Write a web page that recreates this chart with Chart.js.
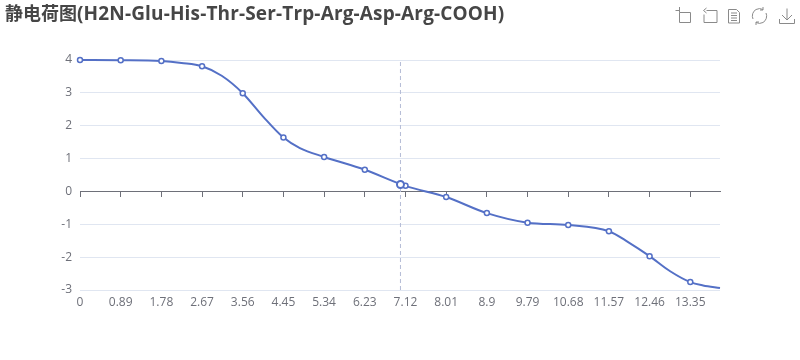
<!DOCTYPE html>
<html>
<head>
<meta charset="utf-8">
<title>静电荷图</title>
<script src="https://cdn.jsdelivr.net/npm/chart.js@4/dist/chart.umd.min.js"></script>
<style>
    html, body { margin: 0; background: #fff; }
    #wrap { position: relative; width: 800px; height: 360px; overflow: hidden; }
    #title { position: absolute; left: 5px; top: 0; font: bold 18px/24px "Noto Sans CJK SC", sans-serif; color: #464646; white-space: nowrap; }
    #title span { font-family: "Open Sans", sans-serif; font-size: 19px; letter-spacing: 0.15px; }
    #tools { position: absolute; left: 0; top: 0; }
    #tools path { fill: none; stroke: #8a8a8a; stroke-width: 1; }
</style>
</head>
<body>
<div id="wrap">
    <canvas id="chart" width="800" height="360"></canvas>
    <div id="title">静电荷图<span>(H2N-Glu-His-Thr-Ser-Trp-Arg-Asp-Arg-COOH)</span></div>
    <svg id="tools" width="800" height="30">
        <path d="M675.5 10.500h4M679.500 7v5.500h11v10h-11v-10"/>
        <path d="M706.500 10.500h10.500v12h-13v-8M706.500 8l-3 2.500 3 2.500"/>
        <path d="M728.500 9.500h8l3 3v10.500h-11zM731 13h6M731 15.500h6M731 18h6M731 20.500h6"/>
        <path d="M753 19a7.500 7.500 0 0 1 3-9.500 7.500 7.500 0 0 1 7 0M766 13a7.500 7.500 0 0 1-3 9.500 7.500 7.500 0 0 1-7 0M763 7v3h-3M756 25v-3h3"/>
        <path d="M787 8.500v11M782 15l5 5 5-5M779.500 19v4.500h15v-4.500"/>
    </svg>
</div>
<script>
// values at the marked ticks
const markerPh = [0, 0.89, 1.78, 2.67, 3.56, 4.45, 5.34, 6.23, 7.12, 8.01, 8.9, 9.79, 10.68, 11.57, 12.46, 13.35];
const markerCharge = [4.0, 3.995, 3.97, 3.81, 2.99, 1.64, 1.05, 0.66, 0.17, -0.17, -0.66, -0.95, -1.02, -1.21, -1.97, -2.76];
// the curve also passes through these, read between the markers
const curvePh = [0, 0.89, 1.78, 2.22, 2.67, 3.1, 3.56, 4.01, 4.45, 4.81, 5.34, 6.23, 7.12, 8.01, 8.9, 9.79, 10.68, 11.57, 11.99, 12.46, 12.91, 13.35, 13.63, 14];
const curveCharge = [4.0, 3.995, 3.97, 3.91, 3.81, 3.52, 2.99, 2.27, 1.64, 1.32, 1.05, 0.66, 0.17, -0.17, -0.66, -0.95, -1.02, -1.21, -1.54, -1.97, -2.43, -2.76, -2.86, -2.94];
const xTicks = [0, 0.89, 1.78, 2.67, 3.56, 4.45, 5.34, 6.23, 7.12, 8.01, 8.9, 9.79, 10.68, 11.57, 12.46, 13.35];
const yTicks = [-3, -2, -1, 0, 1, 2, 3, 4];
const pI = 7.01;
const pICharge = 0.21;

const BLUE = '#5470c6';
const AXIS = '#6e7079';

function useTicks(list) {
    return (scale) => {
        scale.ticks = list.map((value) => ({ value }));
    };
}

new Chart(document.getElementById('chart'), {
    type: 'scatter',
    data: {
        datasets: [
            {
                label: 'pI 点',
                order: 0,
                data: [{ x: pI, y: pICharge }],
                pointBackgroundColor: '#fff',
                pointBorderColor: BLUE,
                pointBorderWidth: 2,
                pointRadius: 3.5,
            },
            {
                label: 'pI',
                order: 1,
                data: [{ x: pI, y: -3 }, { x: pI, y: 4 }],
                showLine: true,
                borderColor: '#b4bcd6',
                borderWidth: 1,
                borderDash: [4, 3],
                pointRadius: 0,
            },
            {
                label: '标记',
                order: 2,
                data: markerPh.map((x, i) => ({ x, y: markerCharge[i] })),
                pointBackgroundColor: '#fff',
                pointBorderColor: BLUE,
                pointBorderWidth: 1.5,
                pointRadius: 2.5,
                clip: false,
            },
            {
                label: '静电荷',
                order: 3,
                data: curvePh.map((x, i) => ({ x, y: curveCharge[i] })),
                showLine: true,
                borderColor: BLUE,
                borderWidth: 2,
                cubicInterpolationMode: 'monotone',
                pointRadius: 0,
                clip: false,
            },
        ],
    },
    options: {
        responsive: false,
        animation: false,
        events: [],
        layout: { padding: { top: 60, right: 80, bottom: 0, left: 0 } },
        plugins: { legend: { display: false }, tooltip: { enabled: false } },
        scales: {
            x: {
                type: 'linear',
                min: 0,
                max: 14,
                afterBuildTicks: useTicks(xTicks),
                afterFit: (s) => { s.height = 70; },
                border: { display: false },
                grid: { display: false, drawTicks: false },
                ticks: {
                    autoSkip: false,
                    maxRotation: 0,
                    padding: 5,
                    color: AXIS,
                    font: { family: '"Open Sans", sans-serif', size: 12 },
                    callback: (v) => String(v),
                },
            },
            // zero line with its tick marks; labels stay on the bottom axis
            xZero: {
                type: 'linear',
                axis: 'x',
                position: { y: 0 },
                min: 0,
                max: 14,
                afterBuildTicks: useTicks(xTicks),
                border: { display: true, color: AXIS, width: 1 },
                grid: { drawOnChartArea: false, tickLength: 5, tickColor: AXIS },
                ticks: { display: false },
            },
            y: {
                min: -3,
                max: 4,
                afterBuildTicks: useTicks(yTicks),
                afterFit: (s) => { s.width = 80; },
                border: { display: false },
                grid: {
                    drawTicks: false,
                    color: (c) => (c.tick.value === 0 ? 'rgba(0,0,0,0)' : '#e0e6f1'),
                },
                ticks: {
                    padding: 8,
                    color: AXIS,
                    font: { family: '"Open Sans", sans-serif', size: 12 },
                },
            },
        },
    },
});
</script>
</body>
</html>
